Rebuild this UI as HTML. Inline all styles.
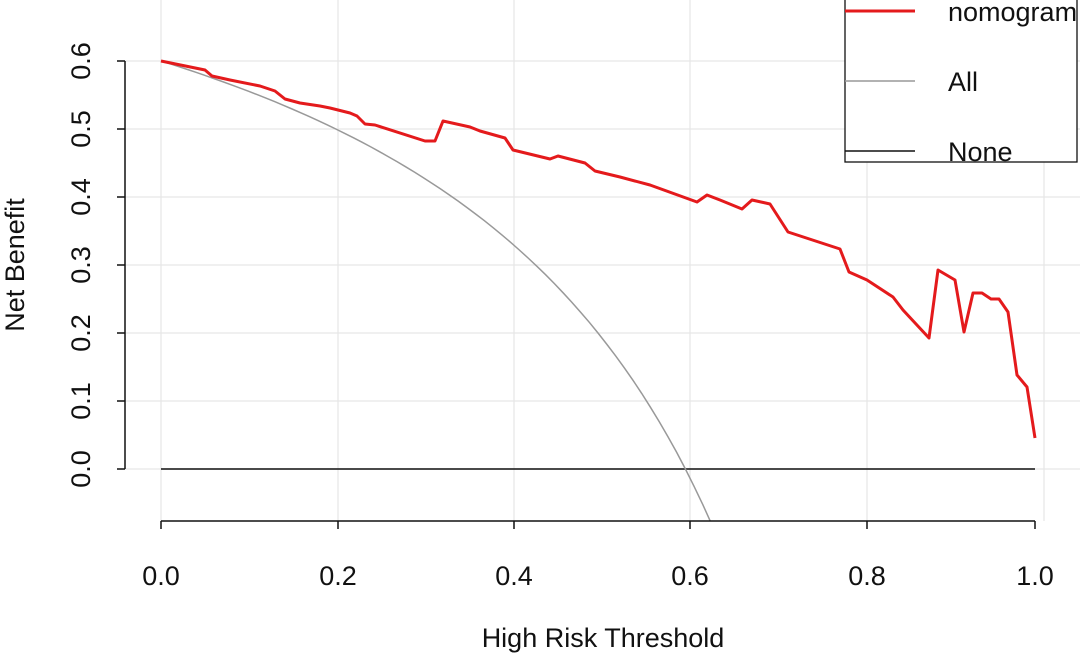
<!DOCTYPE html>
<html><head><meta charset="utf-8"><style>
html,body{margin:0;padding:0;background:#fff;}
svg{display:block;font-family:"Liberation Sans",sans-serif;}
</style></head><body>
<svg width="1080" height="655" viewBox="0 0 1080 655" xmlns="http://www.w3.org/2000/svg">
<defs><clipPath id="c"><rect x="125" y="0" width="955" height="521"/></clipPath></defs>
<g stroke="#e6e6e6" stroke-width="1.2">
<line x1="161" y1="0" x2="161" y2="521"/><line x1="338" y1="0" x2="338" y2="521"/><line x1="514" y1="0" x2="514" y2="521"/><line x1="690" y1="0" x2="690" y2="521"/><line x1="867" y1="0" x2="867" y2="521"/><line x1="1044" y1="0" x2="1044" y2="521"/>
<line x1="125" y1="61" x2="1080" y2="61"/><line x1="125" y1="129" x2="1080" y2="129"/><line x1="125" y1="197" x2="1080" y2="197"/><line x1="125" y1="265" x2="1080" y2="265"/><line x1="125" y1="333" x2="1080" y2="333"/><line x1="125" y1="401" x2="1080" y2="401"/><line x1="125" y1="469" x2="1080" y2="469"/>
</g>
<line x1="161" y1="469" x2="1035" y2="469" stroke="#111" stroke-width="1.5"/>
<polyline id="all" clip-path="url(#c)" fill="none" stroke="#999" stroke-width="1.5" points=""/>
<polyline fill="none" stroke="#e41a1c" stroke-width="3" stroke-linejoin="round" points="161,61 205,70 212,76 230,80 260,86 275,91 285,99 300,103 320,106 330,108 350,113 357,116 365,124 375,125 425,141 435,141 443,121 470,127 480,131 505,138 513,150 550,159 558,156 585,163 595,171 620,177 650,185 697,202 707,195 720,200 742,209 752,200 770,204 788,232 840,249 849,272 867,280 893,297 903,310 929,338 938,270 955,280 964,332 973,293 982,293 991,299 999,299 1008,312 1017,375 1027,387 1035,438"/>
<g stroke="#111" stroke-width="1.5" fill="none">
<line x1="125" y1="61" x2="125" y2="469"/>
<line x1="117" y1="61" x2="125" y2="61"/><line x1="117" y1="129" x2="125" y2="129"/><line x1="117" y1="197" x2="125" y2="197"/><line x1="117" y1="265" x2="125" y2="265"/><line x1="117" y1="333" x2="125" y2="333"/><line x1="117" y1="401" x2="125" y2="401"/><line x1="117" y1="469" x2="125" y2="469"/>
<line x1="161" y1="521" x2="1035" y2="521"/>
<line x1="161" y1="521" x2="161" y2="529"/><line x1="338" y1="521" x2="338" y2="529"/><line x1="514" y1="521" x2="514" y2="529"/><line x1="690" y1="521" x2="690" y2="529"/><line x1="867" y1="521" x2="867" y2="529"/><line x1="1035" y1="521" x2="1035" y2="529"/>
</g>
<g font-size="27" fill="#111" text-anchor="middle">
<text x="161" y="585">0.0</text><text x="338" y="585">0.2</text><text x="514" y="585">0.4</text><text x="690" y="585">0.6</text><text x="867" y="585">0.8</text><text x="1035" y="585">1.0</text>
<text x="603" y="647">High Risk Threshold</text>
<g transform="rotate(-90)">
<text x="-61" y="90">0.6</text><text x="-129" y="90">0.5</text><text x="-197" y="90">0.4</text><text x="-265" y="90">0.3</text><text x="-333" y="90">0.2</text><text x="-401" y="90">0.1</text><text x="-469" y="90">0.0</text>
<text x="-265" y="24">Net Benefit</text>
</g>
</g>
<rect x="845" y="-2" width="232" height="164" fill="#fff" stroke="#111" stroke-width="1.3"/>
<line x1="845" y1="11" x2="915" y2="11" stroke="#e41a1c" stroke-width="3"/>
<line x1="845" y1="81" x2="915" y2="81" stroke="#999" stroke-width="1.5"/>
<line x1="845" y1="151" x2="915" y2="151" stroke="#111" stroke-width="1.5"/>
<g font-size="27" fill="#111">
<text x="948" y="21">nomogram</text><text x="948" y="91">All</text><text x="948" y="161">None</text>
</g>
<script>
var p=[];for(var i=0;i<=66;i++){var t=i/100;var v=0.6-0.4*t/(1-t);p.push((161+874*t).toFixed(1)+","+(469-680*v).toFixed(1));}
document.getElementById("all").setAttribute("points",p.join(" "));
</script>
</svg>
</body></html>
